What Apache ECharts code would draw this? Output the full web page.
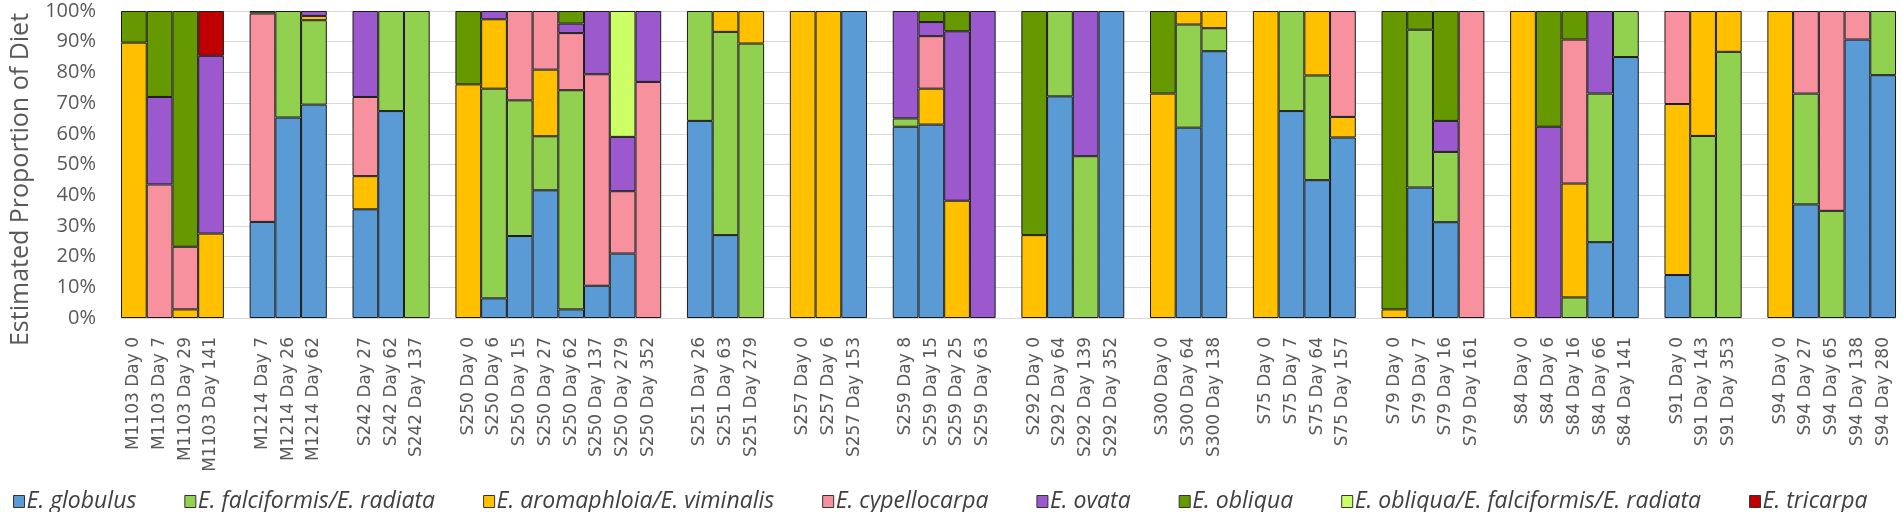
<!DOCTYPE html>
<html>
<head>
<meta charset="utf-8">
<script src="https://cdn.jsdelivr.net/npm/echarts@6/dist/echarts.min.js"></script>
<style>html,body{margin:0;padding:0;background:#fff;}#c{width:1902px;height:512px;}</style>
</head>
<body>
<div id="c"></div>
<script>
// Bar labels (in display order); a gap is drawn where the animal ID changes
const bars = [
  'M1103 Day 0','M1103 Day 7','M1103 Day 29','M1103 Day 141',
  'M1214 Day 7','M1214 Day 26','M1214 Day 62',
  'S242 Day 27','S242 Day 62','S242 Day 137',
  'S250 Day 0','S250 Day 6','S250 Day 15','S250 Day 27','S250 Day 62','S250 Day 137','S250 Day 279','S250 Day 352',
  'S251 Day 26','S251 Day 63','S251 Day 279',
  'S257 Day 0','S257 Day 6','S257 Day 153',
  'S259 Day 8','S259 Day 15','S259 Day 25','S259 Day 63',
  'S292 Day 0','S292 Day 64','S292 Day 139','S292 Day 352',
  'S300 Day 0','S300 Day 64','S300 Day 138',
  'S75 Day 0','S75 Day 7','S75 Day 64','S75 Day 157',
  'S79 Day 0','S79 Day 7','S79 Day 16','S79 Day 161',
  'S84 Day 0','S84 Day 6','S84 Day 16','S84 Day 66','S84 Day 141',
  'S91 Day 0','S91 Day 143','S91 Day 353',
  'S94 Day 0','S94 Day 27','S94 Day 65','S94 Day 138','S94 Day 280'
];

const speciesNames = [
  'E. globulus','E. falciformis/E. radiata','E. aromaphloia/E. viminalis','E. cypellocarpa',
  'E. ovata','E. obliqua','E. obliqua/E. falciformis/E. radiata','E. tricarpa'
];

// Estimated proportion (%) of each species per bar
const globulus = [0,0,0,0, 31.3,65.3,69.5, 35.4,67.4,0, 0,6.4,26.7,41.6,2.8,10.5,21.0,0, 64.2,27.0,0, 0,0,100, 62.3,63.0,0,0, 0,72.2,0,100, 0,62.0,86.9, 0,67.4,44.9,58.8, 0,42.5,31.2,0, 0,0,0,24.7,85.0, 14.0,0,0, 0,37.0,0,90.7,79.1];
const falciformis = [0,0,0,0, 0,34.7,27.5, 0,32.6,100, 0,68.3,44.2,17.6,71.4,0,0,0, 35.8,66.2,89.4, 0,0,0, 2.7,0,0,0, 0,27.8,52.7,0, 0,33.6,7.5, 0,32.6,34.1,0, 0,51.4,22.9,0, 0,0,6.7,48.4,15.0, 0,59.3,86.7, 0,36.1,34.9,0,20.9];
const aromaphloia = [89.7,0,2.8,27.5, 0,0,1.4, 10.8,0,0, 76.1,22.6,0,21.7,0,0,0,0, 0,6.8,10.6, 100,100,0, 0,11.7,38.2,0, 27.0,0,0,0, 73.1,4.4,5.6, 100,0,21.0,6.7, 2.8,0,0,0, 100,0,37.1,0,0, 55.7,40.7,13.3, 100,0,0,0,0];
const cypellocarpa = [0,43.5,20.4,0, 67.9,0,0, 25.8,0,0, 0,0,29.1,19.1,18.6,68.9,20.3,76.9, 0,0,0, 0,0,0, 0,17.1,0,0, 0,0,0,0, 0,0,0, 0,0,0,34.5, 0,0,0,100, 0,0,46.9,0,0, 30.3,0,0, 0,26.9,65.1,9.3,0];
const ovata = [0,28.5,0,57.9, 0,0,1.6, 28.0,0,0, 0,2.7,0,0,3.1,20.6,17.7,23.1, 0,0,0, 0,0,0, 35.0,4.6,55.2,100, 0,0,47.3,0, 0,0,0, 0,0,0,0, 0,0,10.1,0, 0,62.3,0,26.9,0, 0,0,0, 0,0,0,0,0];
const obliqua = [10.3,28.0,76.8,0, 0.8,0,0, 0,0,0, 23.9,0,0,0,4.1,0,0,0, 0,0,0, 0,0,0, 0,3.6,6.6,0, 73.0,0,0,0, 26.9,0,0, 0,0,0,0, 97.2,6.1,35.8,0, 0,37.7,9.3,0,0, 0,0,0, 0,0,0,0,0];
const obliquaFalc = [0,0,0,0, 0,0,0, 0,0,0, 0,0,0,0,0,0,41.0,0, 0,0,0, 0,0,0, 0,0,0,0, 0,0,0,0, 0,0,0, 0,0,0,0, 0,0,0,0, 0,0,0,0,0, 0,0,0, 0,0,0,0,0];
const tricarpa = [0,0,0,14.6, 0,0,0, 0,0,0, 0,0,0,0,0,0,0,0, 0,0,0, 0,0,0, 0,0,0,0, 0,0,0,0, 0,0,0, 0,0,0,0, 0,0,0,0, 0,0,0,0,0, 0,0,0, 0,0,0,0,0];

const yTicks = [0,10,20,30,40,50,60,70,80,90,100];

const seriesValues = [globulus, falciformis, aromaphloia, cypellocarpa, ovata, obliqua, obliquaFalc, tricarpa];
const colors = ['#5B9BD5','#92D050','#FFC000','#F7919E','#9B59CD','#669900','#CCFF66','#C00000'];

// Build categories with an empty slot between animal groups
const categories = [];
const slotIndex = [];
let prev = null, gapCount = 0;
bars.forEach((b, i) => {
  const g = b.split(' Day')[0];
  if (prev !== null && g !== prev) { gapCount++; categories.push(' '.repeat(gapCount)); }
  slotIndex.push(categories.length);
  categories.push(b);
  prev = g;
});

const series = speciesNames.map((name, s) => {
  const data = categories.map(() => null);
  seriesValues[s].forEach((v, i) => { data[slotIndex[i]] = v > 0 ? v : null; });
  return {
    name, type: 'bar', stack: 'diet', data,
    barCategoryGap: 0,
    itemStyle: { color: colors[s], borderColor: '#1a1a1a', borderWidth: 1 },
    emphasis: { disabled: true }
  };
});

const chart = echarts.init(document.getElementById('c'), null, { renderer: 'canvas' });
chart.setOption({
  animation: false,
  backgroundColor: '#fff',
  grid: { left: 118, right: 6, top: 11, bottom: 194, containLabel: false },
  legend: {
    data: speciesNames,
    left: 8, top: 485,
    icon: 'rect', itemWidth: 11, itemHeight: 12, itemGap: 48,
    itemStyle: { borderColor: '#333', borderWidth: 1 },
    textStyle: { fontFamily: 'Open Sans', fontStyle: 'italic', fontSize: 23, color: '#404040', padding: [0,0,0,-3] }
  },
  xAxis: {
    type: 'category', data: categories,
    axisTick: { show: false },
    axisLine: { lineStyle: { color: '#D9D9D9', width: 1 } },
    axisLabel: { interval: 0, rotate: 90, margin: 19, fontFamily: 'DejaVu Sans', fontSize: 17, color: '#595959' }
  },
  yAxis: {
    type: 'value', min: yTicks[0], max: yTicks[yTicks.length - 1], interval: 10,
    name: 'Estimated Proportion of Diet', nameLocation: 'middle', nameGap: 88,
    nameTextStyle: { fontFamily: 'Open Sans', fontSize: 25, color: '#595959', padding: [0, 30, 0, 0] },
    axisLine: { show: false }, axisTick: { show: false },
    axisLabel: { formatter: '{value}%', margin: 25, fontFamily: 'Open Sans', fontSize: 20, color: '#595959' },
    splitLine: { lineStyle: { color: '#D9D9D9', width: 1 } }
  },
  series
});
</script>
</body>
</html>
